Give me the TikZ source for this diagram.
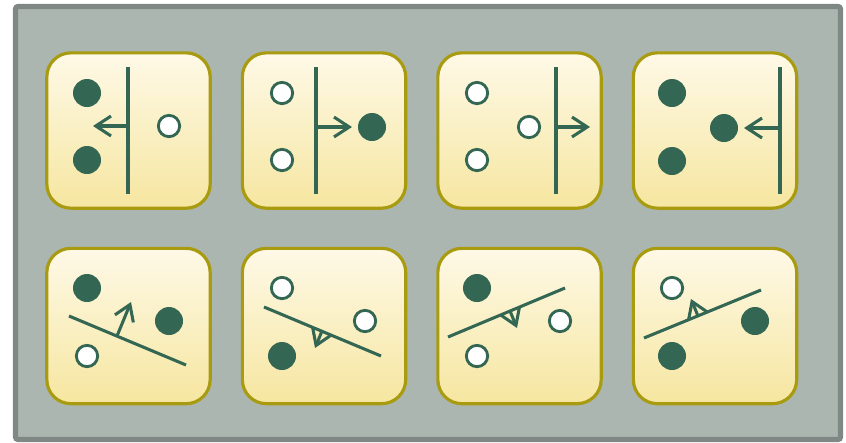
\documentclass[tikz,border=0pt]{standalone}
\usepackage{tikz}
\usepackage{xcolor}
\usetikzlibrary{shapes,arrows.meta,positioning,calc}

\definecolor{ink}{HTML}{336653}
\definecolor{olive}{HTML}{A89B10}
\definecolor{creamtop}{HTML}{FEF9E7}
\definecolor{creambot}{HTML}{F6E6A0}
\definecolor{slate}{HTML}{ACB6B1}
\definecolor{rim}{HTML}{7F8884}

\begin{document}
\begin{tikzpicture}[
    x=0.03cm, y=-0.03cm,
    node distance=1.11cm and 0.87cm,
    tile/.style={rectangle, draw=olive, line width=2.7pt, rounded corners=0.72cm, top color=creamtop, bottom color=creambot, minimum width=4.9cm, minimum height=4.66cm},
    dot/.style={circle, fill=ink, inner sep=0pt, minimum size=0.84cm},
    hole/.style={circle, draw=ink, fill=white, line width=2.4pt, inner sep=0pt, minimum size=0.64cm},
    wall/.style={draw=ink, line width=2.6pt},
    arrow/.style={-{Straight Barb[length=13pt,width=17pt]}, draw=ink, line width=2.6pt},
    panel/.style={draw=rim, fill=slate, line width=4.3pt, rounded corners=2pt}
]
\useasboundingbox (0,0) rectangle (846,442);

% Background panel
\draw[panel] (15.5,6.5) rectangle (840.5,439.5);

% Top row of tiles
\node[tile] (top1) at (128.5,130.5) {};
\node[tile, right=of top1] (top2) {};
\node[tile, right=of top2] (top3) {};
\node[tile, right=of top3] (top4) {};

% Bottom row of tiles
\node[tile, below=of top1] (bot1) {};
\node[tile, right=of bot1] (bot2) {};
\node[tile, right=of bot2] (bot3) {};
\node[tile, right=of bot3] (bot4) {};

% top1: wall pushes left
\node[dot] (top1_p) at (87,93) {};
\node[dot] (top1_q) at (87,160) {};
\node[hole] (top1_r) at (169,126) {};
\coordinate (top1_hi) at (128,67); \coordinate (top1_lo) at (128,194);
\coordinate (top1_foot) at (128,126); \coordinate (top1_tip) at (93,126);
\draw[wall] (top1_hi) -- (top1_lo);
\draw[arrow] (top1_foot) -- (top1_tip);

% top2: wall pushes right
\node[hole] (top2_p) at (282,93) {};
\node[hole] (top2_q) at (282,160) {};
\node[dot] (top2_r) at (372,127) {};
\coordinate (top2_hi) at (316,67); \coordinate (top2_lo) at (316,194);
\coordinate (top2_foot) at (316,127); \coordinate (top2_tip) at (352,127);
\draw[wall] (top2_hi) -- (top2_lo);
\draw[arrow] (top2_foot) -- (top2_tip);

% top3: all on one side
\node[hole] (top3_p) at (477,93) {};
\node[hole] (top3_q) at (477,160) {};
\node[hole] (top3_r) at (529,127) {};
\coordinate (top3_hi) at (556,67); \coordinate (top3_lo) at (556,194);
\coordinate (top3_foot) at (556,127); \coordinate (top3_tip) at (590,127);
\draw[wall] (top3_hi) -- (top3_lo);
\draw[arrow] (top3_foot) -- (top3_tip);

% top4: all filled
\node[dot] (top4_p) at (672,93) {};
\node[dot] (top4_q) at (672,161) {};
\node[dot] (top4_r) at (724,128) {};
\coordinate (top4_hi) at (780,67); \coordinate (top4_lo) at (780,194);
\coordinate (top4_foot) at (780,128); \coordinate (top4_tip) at (744,128);
\draw[wall] (top4_hi) -- (top4_lo);
\draw[arrow] (top4_foot) -- (top4_tip);

% bot1: tilted line, long normal
\node[dot] (bot1_p) at (87,288) {};
\node[dot] (bot1_r) at (169,321) {};
\node[hole] (bot1_q) at (87,356) {};
\coordinate (bot1_hi) at (69,316); \coordinate (bot1_lo) at (186,365);
\coordinate (bot1_foot) at (117,336); \coordinate (bot1_tip) at (131,302);
\draw[wall] (bot1_hi) -- (bot1_lo);
\draw[arrow] (bot1_foot) -- (bot1_tip);

% bot2
\node[hole] (bot2_p) at (282,288) {};
\node[hole] (bot2_r) at (365,321) {};
\node[dot] (bot2_q) at (282,356) {};
\coordinate (bot2_hi) at (264,307); \coordinate (bot2_lo) at (381,356);
\coordinate (bot2_foot) at (322,331); \coordinate (bot2_tip) at (315,348);
\draw[wall] (bot2_hi) -- (bot2_lo);
\draw[arrow] (bot2_foot) -- (bot2_tip);

% bot3
\node[dot] (bot3_p) at (477,288) {};
\node[hole] (bot3_r) at (560,321) {};
\node[hole] (bot3_q) at (477,356) {};
\coordinate (bot3_hi) at (448,337); \coordinate (bot3_lo) at (565,288);
\coordinate (bot3_foot) at (510,311); \coordinate (bot3_tip) at (517,328);
\draw[wall] (bot3_hi) -- (bot3_lo);
\draw[arrow] (bot3_foot) -- (bot3_tip);

% bot4
\node[hole] (bot4_p) at (672,288) {};
\node[dot] (bot4_r) at (755,321) {};
\node[dot] (bot4_q) at (672,356) {};
\coordinate (bot4_hi) at (644,338); \coordinate (bot4_lo) at (761,290);
\coordinate (bot4_foot) at (698,316); \coordinate (bot4_tip) at (691,299);
\draw[wall] (bot4_hi) -- (bot4_lo);
\draw[arrow] (bot4_foot) -- (bot4_tip);

\end{tikzpicture}
\end{document}
